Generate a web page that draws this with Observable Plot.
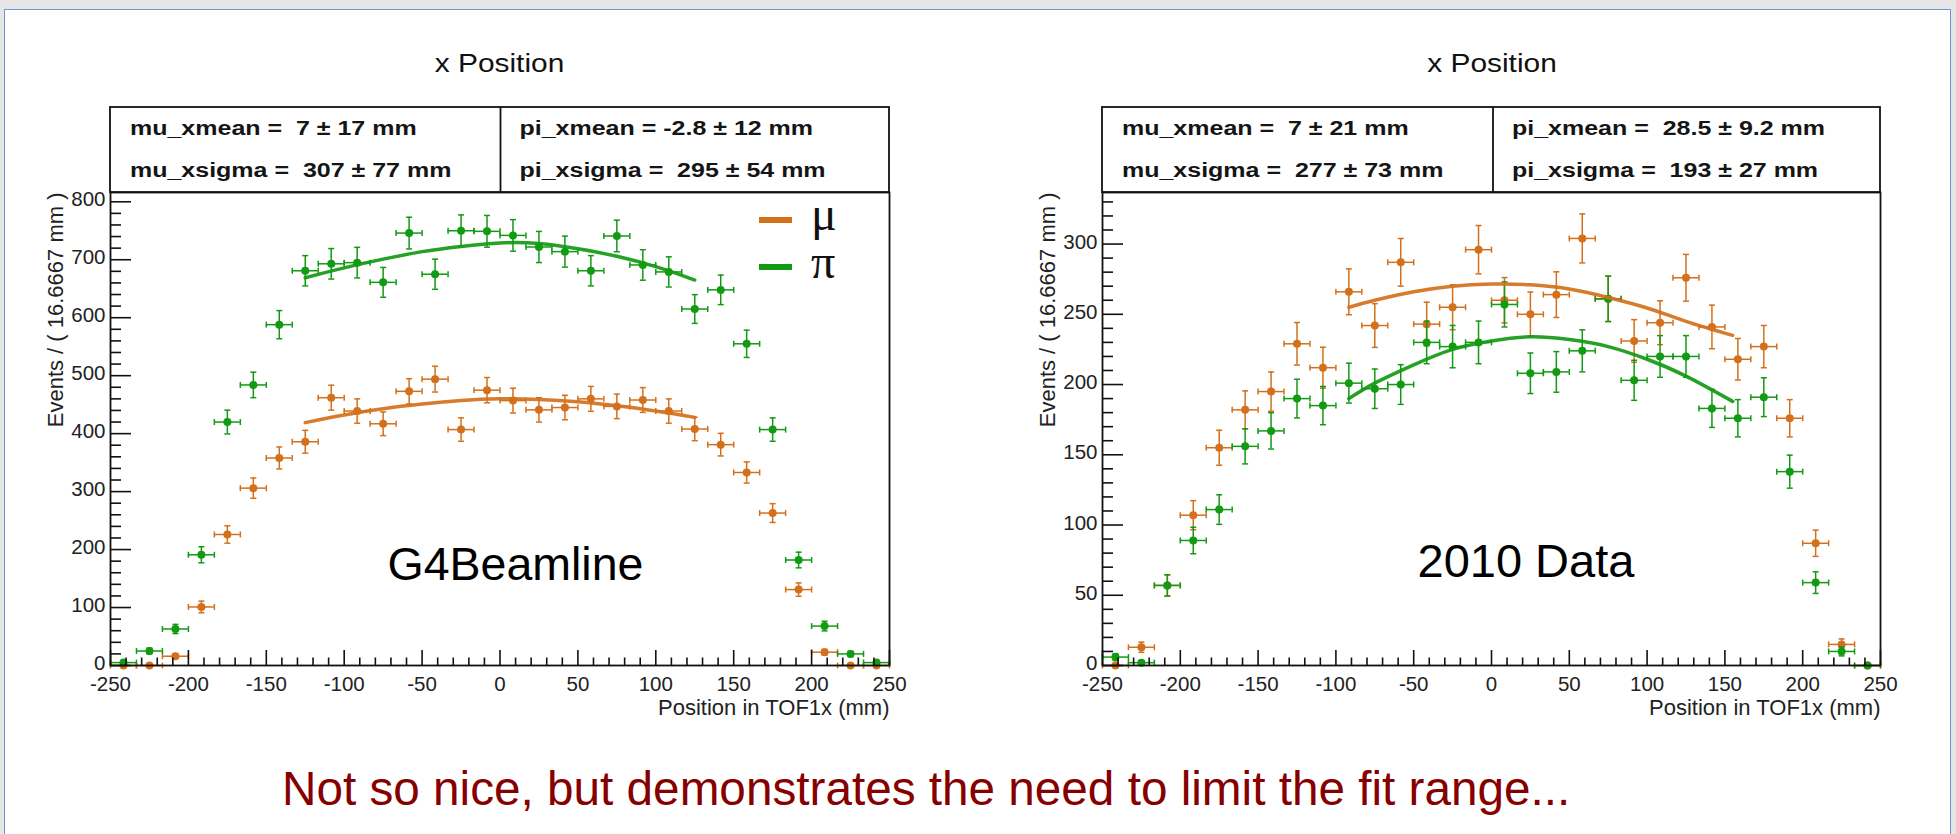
<!DOCTYPE html>
<html>
<head>
<meta charset="utf-8">
<script src="https://cdn.jsdelivr.net/npm/d3@7"></script>
<script src="https://cdn.jsdelivr.net/npm/@observablehq/plot@0.6"></script>
<style>
html, body { margin: 0; padding: 0; background: #e6e6e6; width: 1956px; height: 834px; overflow: hidden; font-family: "Liberation Sans", Arial, sans-serif; }
#page { position: absolute; left: 4px; top: 9px; width: 1947px; height: 900px; background: #fff; border: 1px solid #6d94d2; box-sizing: border-box; }
.panel { position: absolute; top: 150px; }
#overlay { position: absolute; left: 0; top: 0; pointer-events: none; }
</style>
</head>
<body>
<div id="page"></div>
<div id="left" class="panel" style="left:0px"></div>
<div id="right" class="panel" style="left:1000px"></div>
<svg id="overlay" width="1956" height="834"></svg>
<script>
// ---------------- data ----------------
const binCenters = [-241.67, -225, -208.33, -191.67, -175, -158.33, -141.67, -125, -108.33, -91.67, -75, -58.33, -41.67, -25, -8.33, 8.33, 25, 41.67, 58.33, 75, 91.67, 108.33, 125, 141.67, 158.33, 175, 191.67, 208.33, 225, 241.67];
const binHalfWidth = 8.333;

// G4Beamline (left)
const g4MuCounts = [0, 0, 16, 101, 226, 306, 358, 386, 462, 439, 417, 473, 494, 407, 475, 457, 441, 445, 460, 447, 458, 439, 408, 381, 333, 263, 131, 23, 0, 0];
const g4PiCounts = [5, 25, 63, 191, 420, 484, 588, 681, 693, 695, 661, 746, 675, 750, 749, 742, 722, 714, 681, 741, 691, 679, 615, 648, 555, 407, 182, 68, 20, 5];
const g4FitX = [-125, -100, -75, -50, -25, 0, 25, 50, 75, 100, 125];
const g4MuFit = [419, 432, 443, 451, 457, 460, 459, 455, 448, 439, 428];
const g4PiFit = [669, 686, 701, 714, 723, 729, 728, 719, 706, 688, 665];

// 2010 Data (right)
const dataMuCounts = [0, 13, 57, 107, 155, 182, 195, 229, 212, 266, 242, 287, 243, 255, 296, 260, 250, 264, 304, 261, 231, 244, 276, 241, 218, 227, 176, 87, 15, 0];
const dataPiCounts = [6, 2, 57, 89, 111, 156, 167, 190, 185, 201, 197, 200, 230, 227, 230, 257, 208, 209, 224, 261, 203, 220, 220, 183, 176, 191, 138, 59, 10, 0];
const dataFitX = [-91.67, -75, -50, -25, 0, 25, 50, 75, 100, 125, 155];
const dataMuFit = [255, 260, 266, 270, 271.5, 271, 268, 262, 254.5, 245, 235];
const dataPiFit = [190, 201, 214, 225, 231, 234, 232, 227, 218, 206, 188];

// axes / text
const xMajorTicks = [-250, -200, -150, -100, -50, 0, 50, 100, 150, 200, 250];
const g4YMajorTicks = [0, 100, 200, 300, 400, 500, 600, 700, 800];
const dataYMajorTicks = [0, 50, 100, 150, 200, 250, 300];
const plotTitle = "x Position";
const xLabel = "Position in TOF1x (mm)";
const yLabel = "Events / ( 16.6667 mm )";
const g4Stats = [["mu_xmean =  7 ± 17 mm", "mu_xsigma =  307 ± 77 mm"], ["pi_xmean = -2.8 ± 12 mm", "pi_xsigma =  295 ± 54 mm"]];
const dataStats = [["mu_xmean =  7 ± 21 mm", "mu_xsigma =  277 ± 73 mm"], ["pi_xmean =  28.5 ± 9.2 mm", "pi_xsigma =  193 ± 27 mm"]];
const legendLabels = ["μ", "π"];
const caption = "Not so nice, but demonstrates the need to limit the fit range...";

const MU = "#d4701b";
const PI = "#129a12";
const SANS = "Liberation Sans, Arial, sans-serif";

// ---------------- panels ----------------
const capH = {draw(c, s) { const r = Math.sqrt(s / Math.PI); c.moveTo(-r, 0); c.lineTo(r, 0); }};
const capV = {draw(c, s) { const r = Math.sqrt(s / Math.PI); c.moveTo(0, -r); c.lineTo(0, r); }};

function seriesMarks(counts, color) {
  const d = binCenters.map((x, i) => ({x, y: counts[i], e: Math.sqrt(counts[i])}));
  const sw = 1.5;
  return [
    Plot.ruleX(d, {x: "x", y1: v => v.y - v.e, y2: v => v.y + v.e, stroke: color, strokeWidth: sw}),
    Plot.ruleY(d, {y: "y", x1: v => v.x - binHalfWidth, x2: v => v.x + binHalfWidth, stroke: color, strokeWidth: sw}),
    Plot.dot(d, {x: "x", y: v => v.y + v.e, symbol: capH, r: 3, stroke: color, strokeWidth: sw, fill: "none"}),
    Plot.dot(d, {x: "x", y: v => v.y - v.e, symbol: capH, r: 3, stroke: color, strokeWidth: sw, fill: "none"}),
    Plot.dot(d, {x: v => v.x - binHalfWidth, y: "y", symbol: capV, r: 3, stroke: color, strokeWidth: sw, fill: "none"}),
    Plot.dot(d, {x: v => v.x + binHalfWidth, y: "y", symbol: capV, r: 3, stroke: color, strokeWidth: sw, fill: "none"}),
    Plot.dot(d, {x: "x", y: "y", r: 4, fill: color, stroke: "none"})
  ];
}

function fitMark(xs, ys, color) {
  const d = xs.map((x, i) => ({x, y: ys[i]}));
  return Plot.line(d, {x: "x", y: "y", stroke: color, strokeWidth: 3.5, strokeOpacity: 0.92, curve: "natural"});
}

function panel({mu, pi, fitX, muFit, piFit, yMax, yMajor, yMinorStep, width, marginLeft}) {
  const marginRight = 40, marginTop = 42, marginBottom = 65, fh = 473;
  const fw = width - marginLeft - marginRight;
  const yMinor = d3.range(0, yMax + 0.001, yMinorStep).filter(v => !yMajor.includes(v));
  const xMinor = d3.range(-250, 250.001, 10).filter(v => !xMajorTicks.includes(v));
  return Plot.plot({
    width, height: marginTop + fh + marginBottom,
    marginLeft, marginRight, marginTop, marginBottom,
    x: {domain: [-250, 250]},
    y: {domain: [0, yMax]},
    style: {background: "transparent", fontFamily: SANS, fontSize: "20.5px", color: "#222", overflow: "visible"},
    marks: [
      ...seriesMarks(mu, MU),
      ...seriesMarks(pi, PI),
      fitMark(fitX, muFit, MU),
      fitMark(fitX, piFit, PI),
      Plot.tickY(yMajor, {y: d => d, insetRight: fw - 21, stroke: "#111", strokeWidth: 1.6}),
      Plot.tickY(yMinor, {y: d => d, insetRight: fw - 11, stroke: "#111", strokeWidth: 1.6}),
      Plot.tickX(xMajorTicks, {x: d => d, insetTop: fh - 15, stroke: "#111", strokeWidth: 1.6}),
      Plot.tickX(xMinor, {x: d => d, insetTop: fh - 7.5, stroke: "#111", strokeWidth: 1.6}),
      Plot.axisY({ticks: yMajor, tickSize: 0, tickPadding: 5, dy: -2, tickFormat: d => String(d), label: null, fill: "#222"}),
      Plot.axisX({ticks: xMajorTicks, tickSize: 0, tickPadding: 11, tickFormat: d => String(d), label: null, fill: "#222"}),
      Plot.frame({stroke: "#111", strokeWidth: 1.8}),
      Plot.text([xLabel], {frameAnchor: "bottom-right", textAnchor: "end", lineAnchor: "bottom", dy: 49, fontSize: 22, fill: "#222"}),
      Plot.text([yLabel], {frameAnchor: "top-left", rotate: -90, textAnchor: "end", lineAnchor: "bottom", dx: -48, fontSize: 22, fill: "#222"})
    ]
  });
}

document.getElementById("left").append(panel({
  mu: g4MuCounts, pi: g4PiCounts, fitX: g4FitX, muFit: g4MuFit, piFit: g4PiFit,
  yMax: 816, yMajor: g4YMajorTicks, yMinorStep: 20, width: 929, marginLeft: 110
}));
document.getElementById("right").append(panel({
  mu: dataMuCounts, pi: dataPiCounts, fitX: dataFitX, muFit: dataMuFit, piFit: dataPiFit,
  yMax: 336.7, yMajor: dataYMajorTicks, yMinorStep: 10, width: 920, marginLeft: 102
}));

// ---------------- overlay: titles, stats boxes, legend, notes ----------------
const ov = d3.select("#overlay");
function txt(x, y, s, {size = 20, weight = "normal", sx = 1, anchor = "start", fill = "#111", family = SANS} = {}) {
  ov.append("text")
    .attr("transform", `translate(${x},${y}) scale(${sx},1)`)
    .attr("text-anchor", anchor).attr("font-size", size).attr("font-weight", weight)
    .attr("font-family", family).attr("fill", fill).style("white-space", "pre").text(s);
}
function statsBox(x0, x1, xDiv, stats) {
  ov.append("rect").attr("x", x0).attr("y", 107).attr("width", x1 - x0).attr("height", 85)
    .attr("fill", "#fff").attr("stroke", "#111").attr("stroke-width", 1.8);
  ov.append("line").attr("x1", xDiv).attr("x2", xDiv).attr("y1", 107).attr("y2", 192)
    .attr("stroke", "#111").attr("stroke-width", 1.8);
  const cols = [x0 + 20, xDiv + 19];
  stats.forEach((col, c) => col.forEach((line, r) =>
    txt(cols[c], r === 0 ? 134.5 : 177, line, {size: 20, weight: "bold", sx: 1.25, fill: "#151515"})));
}
txt(499.5, 71.5, plotTitle, {size: 26, sx: 1.15, anchor: "middle"});
txt(1492, 71.5, plotTitle, {size: 26, sx: 1.15, anchor: "middle"});
statsBox(110, 889, 500.5, g4Stats);
statsBox(1102, 1880, 1493, dataStats);

// legend (left panel)
[[MU, 220, 230], [PI, 267, 278]].forEach(([c, ly, by], i) => {
  ov.append("line").attr("x1", 759).attr("x2", 792).attr("y1", ly).attr("y2", ly)
    .attr("stroke", c).attr("stroke-width", 6);
  txt(811, by, legendLabels[i], {size: 48, family: "Liberation Serif, Times New Roman, serif", fill: "#111"});
});

txt(387.5, 580, "G4Beamline", {size: 46.5, fill: "#000"});
txt(1417.5, 577, "2010 Data", {size: 47, fill: "#000"});
txt(282, 805, caption, {size: 47.7, fill: "#860000"});
</script>
</body>
</html>
